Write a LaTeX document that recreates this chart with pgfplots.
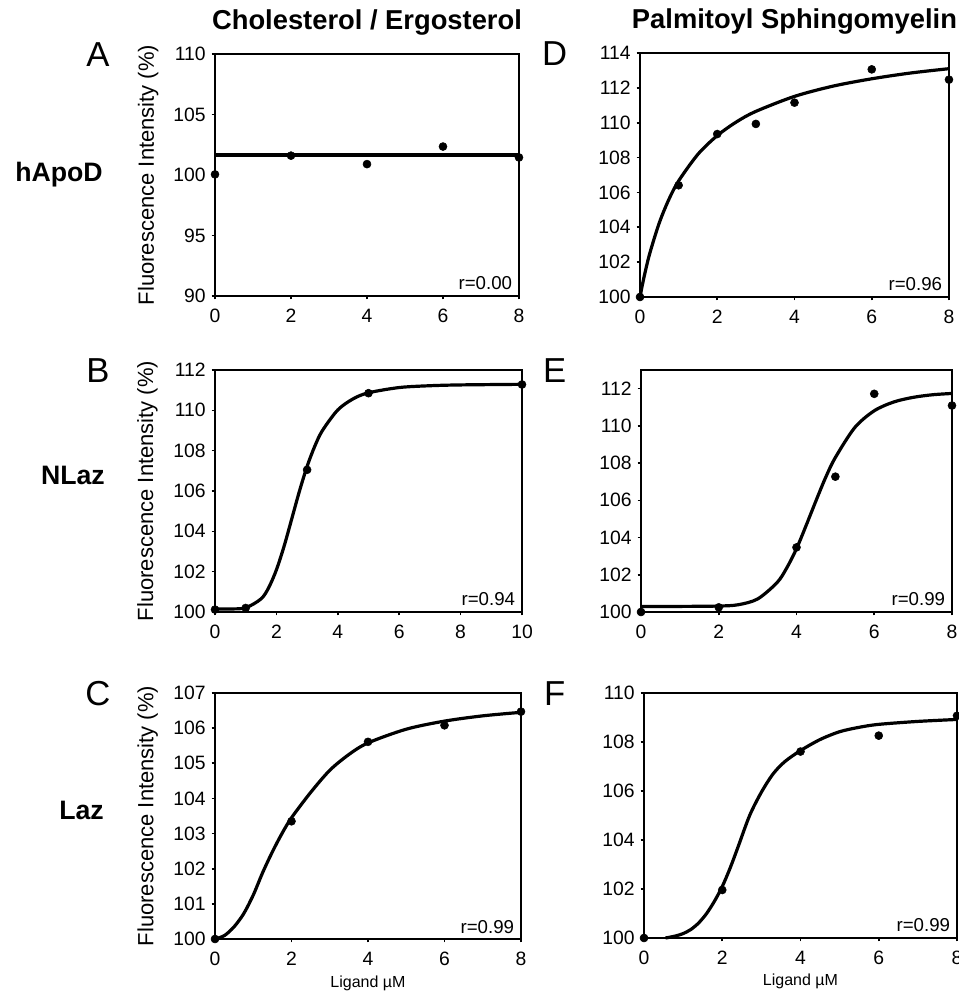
\documentclass[border=0pt]{standalone}
\usepackage{fontspec}
\setmainfont{Liberation Sans}
\usepackage{pgfplots}
\pgfplotsset{compat=1.18}

\pgfplotsset{
  panel/.style={
    scale only axis, clip=false,
    axis line style={line width=1.5pt},
    tick align=outside, xtick pos=bottom, ytick pos=left,
    major tick length=2.5pt,
    tick style={line width=1.2pt, black},
    ticklabel style={font=\fontsize{14.5}{15}\selectfont},
    /pgf/number format/assume math mode=true,
    xticklabel style={yshift=-3.5pt},
    yticklabel style={xshift=-1pt},
    title style={font=\fontsize{20.5}{23}\bfseries, anchor=base, at={(axis description cs:0.5,1)}, yshift=12pt},
    ylabel style={font=\fontsize{16.5}{18}\selectfont, at={(axis description cs:-0.22,0.5)}, anchor=center},
    xlabel style={font=\fontsize{12}{13}\selectfont, at={(axis description cs:0.5,0)}, anchor=base, yshift=-36pt},
  },
  pts/.style={only marks, mark=*, mark size=3pt, black},
  fit/.style={smooth, no marks, line width=2.4pt, black},
}
\newcommand{\rlab}[1]{\node[anchor=base east, inner sep=0pt, font=\fontsize{14}{15}\selectfont] at (rel axis cs:1,0) [xshift=-5pt, yshift=4.5pt] {#1};}

\begin{document}
\begin{tikzpicture}
\useasboundingbox (0,0) rectangle (719.25pt,747pt);

% A - hApoD, cholesterol
\begin{axis}[panel, at={(161.25pt,525pt)}, anchor=south west,
  width=228pt, height=181.5pt,
  xmin=0, xmax=8, xtick={0,2,4,6,8},
  ymin=90, ymax=110, ytick={90,95,100,105,110},
  title={Cholesterol / Ergosterol},
  ylabel={Fluorescence Intensity (\%)}]
\addplot[line width=3pt, black] coordinates {(0,101.62)(8,101.62)};
\addplot[pts] coordinates {(0,100.05)(2,101.6)(4,100.9)(6,102.35)(8,101.45)};
\rlab{r=0.00}
\end{axis}

% D - hApoD, sphingomyelin
\begin{axis}[panel, at={(480pt,524.25pt)}, anchor=south west,
  width=231.75pt, height=183pt,
  xmin=0, xmax=8, xtick={0,2,4,6,8},
  ymin=100, ymax=114, ytick={100,102,...,114},
  title={Palmitoyl Sphingomyelin}]
\addplot[fit] coordinates {(0,100)(0.1,101.10)(0.25,102.48)(0.5,104.26)(0.75,105.61)(1,106.66)(1.5,108.19)(2,109.26)(2.5,110.05)(3,110.65)(4,111.51)(5,112.10)(6,112.52)(7,112.85)(8,113.10)};
\addplot[pts] coordinates {(0,100.0)(1,106.41)(2,109.35)(3,109.93)(4,111.15)(6,113.06)(8,112.47)};
\rlab{r=0.96}
\end{axis}

% B - NLaz, cholesterol
\begin{axis}[panel, at={(161.25pt,288pt)}, anchor=south west,
  width=230.25pt, height=181.5pt,
  xmin=0, xmax=10, xtick={0,2,4,6,8,10},
  ymin=100, ymax=112, ytick={100,102,...,112},
  ylabel={Fluorescence Intensity (\%)}]
\addplot[fit] coordinates {(0,100.15)(0.5,100.15)(1,100.21)(1.5,100.65)(1.75,101.21)(2,102.09)(2.25,103.26)(2.5,104.62)(2.75,105.99)(3,107.22)(3.25,108.22)(3.5,109.00)(4,110.02)(4.5,110.57)(5,110.87)(6,111.13)(7,111.22)(8,111.26)(10,111.29)};
\addplot[pts] coordinates {(0,100.12)(1,100.2)(3,107.05)(5,110.85)(10,111.28)};
\rlab{r=0.94}
\end{axis}

% E - NLaz, sphingomyelin
\begin{axis}[panel, at={(480.75pt,288pt)}, anchor=south west,
  width=233.25pt, height=181.5pt,
  xmin=0, xmax=8, xtick={0,2,4,6,8},
  ymin=100, ymax=113, ytick={100,102,...,112}]
\addplot[fit] coordinates {(0,100.3)(1,100.3)(2,100.32)(2.5,100.39)(3,100.70)(3.5,101.58)(3.75,102.37)(4,103.40)(4.25,104.66)(4.5,105.97)(4.75,107.23)(5,108.30)(5.5,109.91)(6,110.81)(6.5,111.28)(7,111.53)(7.5,111.67)(8,111.74)};
\addplot[pts] coordinates {(0,100.0)(2,100.25)(4,103.47)(5,107.27)(6,111.72)(8,111.09)};
\rlab{r=0.99}
\end{axis}

% C - Laz, cholesterol
\begin{axis}[panel, at={(161.25pt,42.75pt)}, anchor=south west,
  width=229.5pt, height=184.5pt,
  xmin=0, xmax=8, xtick={0,2,4,6,8},
  ymin=100, ymax=107, ytick={100,101,...,107},
  ylabel={Fluorescence Intensity (\%)},
  xlabel={Ligand µM}]
\addplot[fit] coordinates {(0,100)(0.25,100.1)(0.5,100.35)(0.75,100.72)(1,101.25)(1.25,101.9)(1.5,102.48)(1.75,103.0)(2,103.45)(2.5,104.17)(3,104.8)(3.5,105.25)(4,105.58)(5,105.97)(6,106.2)(7,106.35)(8,106.45)};
\addplot[pts] coordinates {(0,100.0)(2,103.35)(4,105.61)(6,106.08)(8,106.47)};
\rlab{r=0.99}
\end{axis}

% F - Laz, sphingomyelin
\begin{axis}[panel, at={(483pt,43.5pt)}, anchor=south west,
  width=234.75pt, height=183.75pt,
  xmin=0, xmax=8, xtick={0,2,4,6,8},
  ymin=100, ymax=110, ytick={100,102,...,110},
  xlabel={Ligand µM}]
\addplot[fit] coordinates {(0.55,100.0)(0.8,100.08)(1.0,100.18)(1.2,100.35)(1.4,100.62)(1.6,101.0)(1.8,101.5)(2.0,102.1)(2.2,102.85)(2.4,103.7)(2.7,105.0)(3.0,105.95)(3.3,106.7)(3.6,107.2)(4.0,107.65)(4.5,108.1)(5.0,108.42)(5.5,108.6)(6.0,108.72)(7.0,108.84)(8.0,108.92)};
\addplot[pts] coordinates {(0,100.0)(2,101.96)(4,107.61)(6,108.26)(8,109.07)};
\rlab{r=0.99}
\end{axis}

% row labels and panel letters
\begin{scope}[every node/.style={inner sep=0pt}]
\node[anchor=base east, font=\fontsize{20}{22}\bfseries] at (77.25pt,610.5pt) {hApoD};
\node[anchor=base east, font=\fontsize{20}{22}\bfseries] at (78.75pt,383.25pt) {NLaz};
\node[anchor=base east, font=\fontsize{20}{22}\bfseries] at (78pt,132pt) {Laz};
\node[anchor=base, font=\fontsize{26}{28}\selectfont] at (73.5pt,696.75pt) {A};
\node[anchor=base, font=\fontsize{26}{28}\selectfont] at (73.5pt,459.75pt) {B};
\node[anchor=base, font=\fontsize{26}{28}\selectfont] at (73.5pt,217.5pt) {C};
\node[anchor=base, font=\fontsize{26}{28}\selectfont] at (416pt,697.5pt) {D};
\node[anchor=base, font=\fontsize{26}{28}\selectfont] at (416pt,459.75pt) {E};
\node[anchor=base, font=\fontsize{26}{28}\selectfont] at (416pt,217.5pt) {F};
\end{scope}
\end{tikzpicture}
\end{document}
